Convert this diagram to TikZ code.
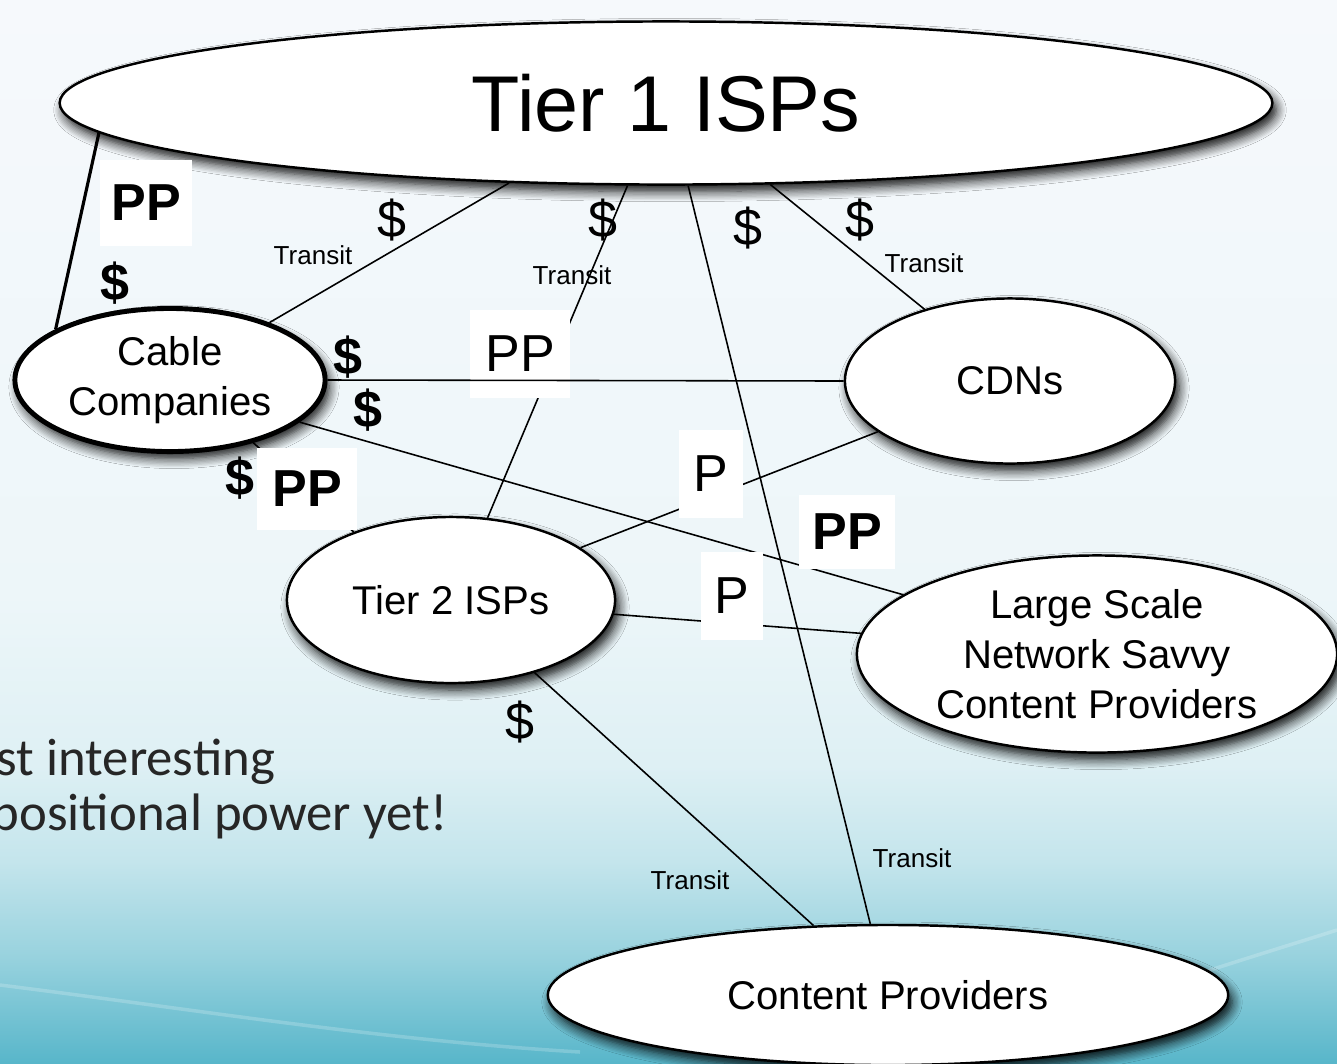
\documentclass[tikz,border=0pt]{standalone}
\usepackage{fontspec}
\setmainfont{Liberation Sans}
\newfontfamily\slidefont{Carlito}
\usepackage{tikz}
\usetikzlibrary{shapes.geometric, shadows, shadows.blur}
\usepackage{xcolor}
\definecolor{bgtop}{RGB}{246,249,252}
\definecolor{bgmid}{RGB}{237,246,249}
\definecolor{bglow}{RGB}{222,240,244}
\definecolor{bgdeep}{RGB}{196,229,236}
\definecolor{bgsea}{RGB}{152,210,222}
\definecolor{bgbottom}{RGB}{88,182,202}
\pgfdeclareverticalshading{slidebg}{100bp}{color(0bp)=(bgbottom); color(25bp)=(bgbottom); color(30bp)=(bgsea); color(34.5bp)=(bgdeep); color(39bp)=(bglow); color(47bp)=(bgmid); color(75bp)=(bgtop); color(100bp)=(bgtop)}

\begin{document}
\begin{tikzpicture}[
    x=0.01cm, y=-0.01cm,
    isp/.style={ellipse, draw, fill=white, line width=0.7pt, inner sep=0pt, align=center, font=\fontsize{11.4}{14.2}\selectfont, blur shadow={shadow xshift=0.04cm, shadow yshift=-0.07cm, shadow blur radius=0.1cm, shadow blur steps=8, shadow opacity=95}},
    link/.style={line width=0.45pt},
    paid/.style={inner sep=0pt, font=\fontsize{14.8}{16}\selectfont},
    paidb/.style={inner sep=0pt, font=\fontsize{14.8}{16}\selectfont\bfseries},
    peer/.style={fill=white, inner sep=0pt, minimum height=0.87cm, font=\fontsize{14.8}{16}\selectfont},
    peerb/.style={peer, font=\fontsize{14.8}{16}\selectfont\bfseries},
    transit/.style={inner sep=0pt, font=\fontsize{7.4}{9}\selectfont}
]
    % Slide background
    \useasboundingbox (0,0) rectangle (1337,1063);
    \shade[shading=slidebg] (0,0) rectangle (1337,1063);
    \clip (0,0) rectangle (1337,1063);
    \draw[white, opacity=0.2, line width=1pt] (0,985) .. controls (200,1010) and (380,1040) .. (580,1052);
    \draw[white, opacity=0.2, line width=1pt] (1180,980) .. controls (1240,960) and (1290,945) .. (1337,930);
    \node[anchor=base west, inner sep=0pt, text=black!85, font=\slidefont\fontsize{15}{16}\selectfont] (note1) at (-4,775) {st interesting};
    \node[anchor=base west, inner sep=0pt, text=black!85, font=\slidefont\fontsize{15}{16}\selectfont] (note2) at (-9,830) {positional power yet!};

    % Networks
    \node[isp, minimum width=12.12cm, minimum height=1.63cm, font=\fontsize{22.5}{26}\selectfont] (tier1) at (666,103) {Tier 1 ISPs};
    \node[isp, line width=1.4pt, minimum width=3.1cm, minimum height=1.43cm] (cable) at (170,380) {Cable\\Companies};
    \node[isp, minimum width=3.3cm, minimum height=1.65cm] (cdn) at (1010,381) {CDNs};
    \node[isp, minimum width=3.28cm, minimum height=1.66cm] (tier2) at (451,600) {Tier 2 ISPs};
    \node[isp, minimum width=4.8cm, minimum height=1.97cm] (savvy) at (1097,654) {Large Scale\\Network Savvy\\Content Providers};
    \node[isp, minimum width=6.8cm, minimum height=1.4cm] (content) at (888,995) {Content Providers};

    % Links
    \draw[link, line width=0.9pt] (tier1.183.3) -- (cable.156.5);
    \draw[link] (tier1.207.9) -- (cable.30.2);
    \draw[link] (tier1.245.1) -- (tier2.66.3);
    \draw[link] (tier1.285) -- (content.104.4);
    \draw[link] (tier1.322.3) -- (cdn.140.1);
    \draw[link] (tier2.22.3) -- (cdn.201.8);
    \draw[link] (tier2.355.8) -- (savvy.175.2);
    \draw[link] (tier2.319.1) -- (content.137.4);
    \draw[link] (cable.342.9) -- (savvy.163.5);
    \draw[link] (cable.323.8) -- (tier2.145.1);

    % Labels
    \node[peerb, minimum width=0.92cm, minimum height=0.85cm] (ppa) at (146,203) {PP};
    \node[paidb] (usda) at (115,283) {\$};
    \node[paid] (usdb) at (392,220) {\$};
    \node[transit] (tra) at (313,255) {Transit};
    \node[paid] (usdc) at (603,220) {\$};
    \node[transit] (trb) at (572,275) {Transit};
    \node[peer, minimum width=1cm, minimum height=0.88cm] (ppb) at (520,354) {PP};
    \node[paidb] (usdd) at (348,357) {\$};
    \node[paidb] (usde) at (368,410) {\$};
    \node[paidb] (usdf) at (240,478) {\$};
    \node[peerb, minimum width=0.99cm, minimum height=0.82cm] (ppc) at (307,489) {PP};
    \node[paid] (usdg) at (748,228) {\$};
    \node[paid] (usdh) at (860,220) {\$};
    \node[transit] (trc) at (924,263) {Transit};
    \node[peer, minimum width=0.63cm] (pa) at (711,474) {P};
    \node[peer, minimum width=0.61cm] (pb) at (732,596) {P};
    \node[peerb, minimum width=0.95cm, minimum height=0.73cm] (ppd) at (847,532) {PP};
    \node[paid] (usdi) at (520,722) {\$};
    \node[transit] (trd) at (690,880) {Transit};
    \node[transit] (tre) at (912,858) {Transit};

    % Peering line over its label
    \draw[link] (cable.0) -- (cdn.180);
\end{tikzpicture}
\end{document}
